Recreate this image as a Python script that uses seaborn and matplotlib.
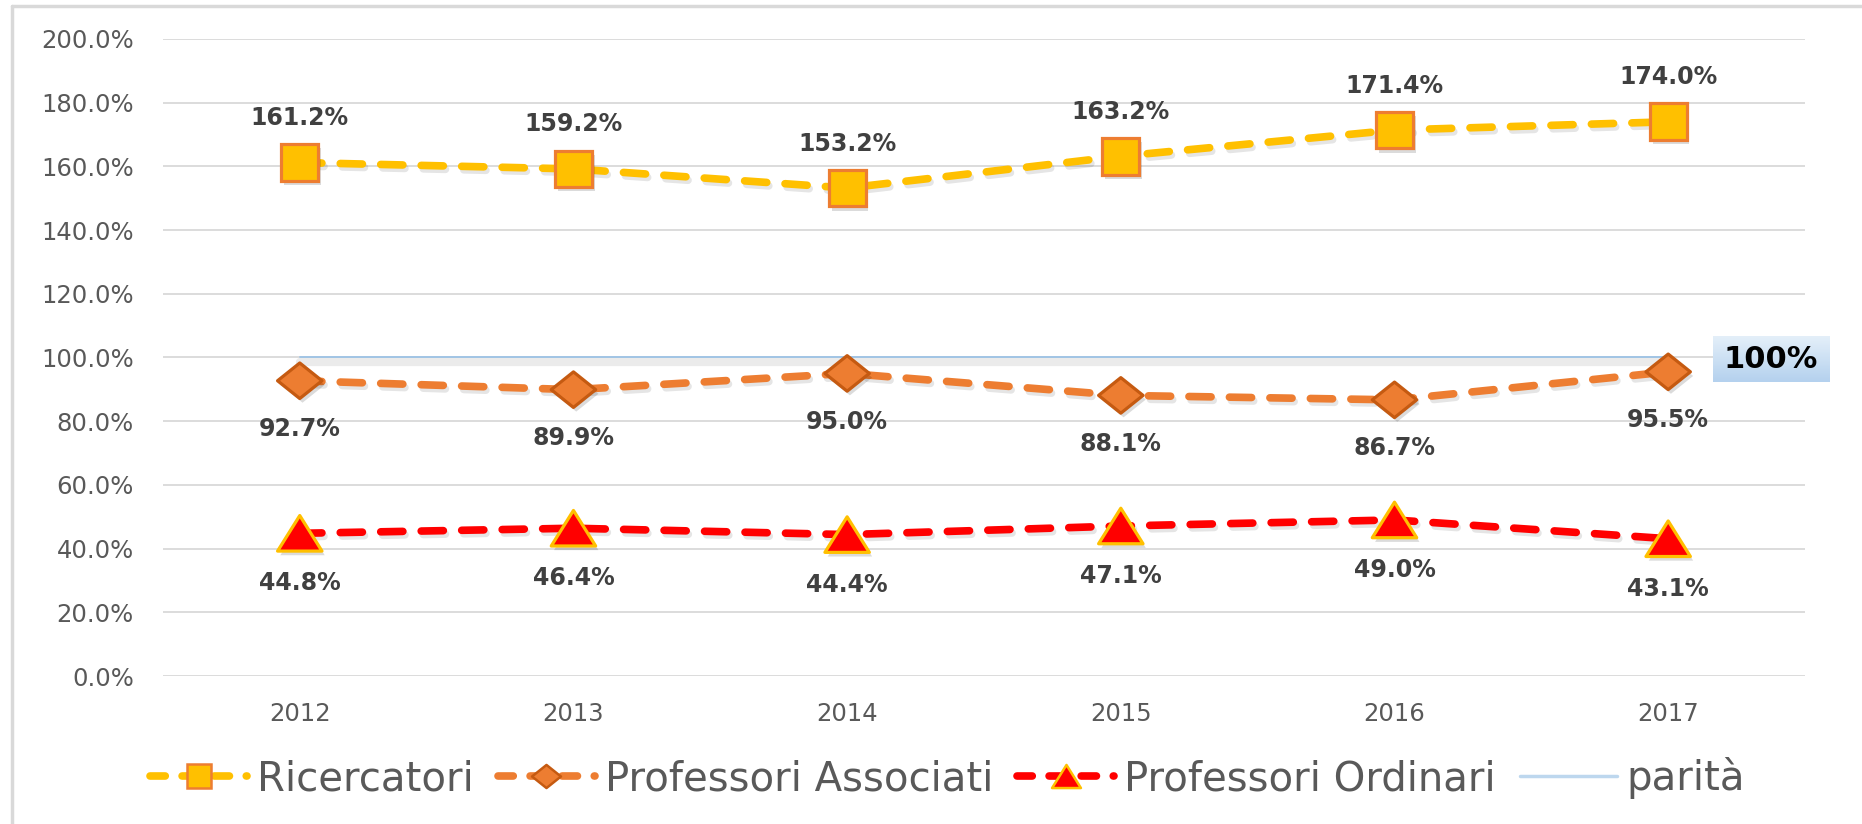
import numpy as np
import pandas as pd
import matplotlib.pyplot as plt
import matplotlib.patheffects as pe
from matplotlib.lines import Line2D
from matplotlib.path import Path
import seaborn as sns

# DATI
anni = ['2012', '2013', '2014', '2015', '2016', '2017']
ricercatori = [161.2, 159.2, 153.2, 163.2, 171.4, 174.0]
associati = [92.7, 89.9, 95.0, 88.1, 86.7, 95.5]
ordinari = [44.8, 46.4, 44.4, 47.1, 49.0, 43.1]
parita = [100, 100, 100, 100, 100, 100]
y_ticks = [0, 20, 40, 60, 80, 100, 120, 140, 160, 180, 200]
nomi = ['Ricercatori', 'Professori Associati', 'Professori Ordinari', 'parità']

df = pd.DataFrame({'anno': anni, 'ric': ricercatori, 'ass': associati,
                   'ord': ordinari, 'par': parita})

sns.set_style('white')
plt.rcParams['font.family'] = ['DejaVu Sans']

# marker personalizzati (rombo e triangolo schiacciati come in Excel)
rombo = Path([(-1.25, 0), (0, 1), (1.25, 0), (0, -1), (-1.25, 0)], closed=True)
triangolo = Path([(0, 1), (-1.25, -1), (1.25, -1), (0, 1)], closed=True)

serie = [
    # colonna, colore linea, marker, faccia, bordo, msize, offset etichetta
    ('ric', '#FFC000', 's', '#FFC000', '#ED7D31', 26.5, 32),
    ('ass', '#ED7D31', rombo, '#ED7D31', '#C55A11', 32, -35),
    ('ord', '#FF0000', triangolo, '#FF0000', '#FFC000', 32, -36),
]

fig = plt.figure(figsize=(18.62, 8.24), dpi=100)
ax = fig.add_axes([0.0875, 0.1796, 0.8819, 0.7731])

ombra_linea = [pe.SimpleLineShadow(offset=(1.5, -2.5), shadow_color='black', alpha=0.1), pe.Normal()]
ombra_marker = [pe.SimplePatchShadow(offset=(2, -3), shadow_rgbFace='black', alpha=0.14), pe.Normal()]

# linea parità
sns.lineplot(data=df, x='anno', y='par', ax=ax, color='#9DC3E6', linewidth=1.3,
             path_effects=[pe.SimpleLineShadow(offset=(0, -3.5), shadow_color='black', alpha=0.08, linewidth=6),
                           pe.Normal()], zorder=2)

for col, c, m, fc, ec, ms, off in serie:
    sns.lineplot(data=df, x='anno', y=col, ax=ax, color=c, linewidth=5.5,
                 linestyle=(0, (2.9, 2.4)), dash_capstyle='round',
                 path_effects=ombra_linea, zorder=3)
    sns.lineplot(data=df, x='anno', y=col, ax=ax, color=c, linestyle='none',
                 marker=m, markersize=ms, markerfacecolor=fc, markeredgecolor=ec,
                 markeredgewidth=2.3, path_effects=ombra_marker, zorder=4)
    for i, v in enumerate(df[col]):
        ax.annotate(f'{v:.1f}%', (i, v), xytext=(0, off), textcoords='offset points',
                    ha='center', va='center', fontsize=17, fontweight='bold',
                    color='#404040', zorder=5)

ax.set_xlim(-0.5, 5.5)
ax.set_ylim(0, 200)
ax.set_yticks(y_ticks)
ax.set_yticklabels([f'{t:.1f}%' for t in y_ticks])
ax.grid(axis='y', color='#D9D9D9', linewidth=1.3)
ax.grid(axis='x', visible=False)
ax.set_axisbelow(True)
for s in ax.spines.values():
    s.set_visible(False)
ax.tick_params(axis='y', length=0, pad=21, labelsize=17.5, labelcolor='#595959')
ax.tick_params(axis='x', length=0, pad=19, labelsize=17.5, labelcolor='#595959')
ax.set_xlabel('')
ax.set_ylabel('')

# riquadro "100%"
box = fig.add_axes([0.920, 0.5364, 0.0623, 0.0558])
grad = np.linspace(0, 1, 50).reshape(-1, 1)
box.imshow(grad, aspect='auto', cmap=sns.blend_palette(['#E4EFF9', '#B4D1EE'], as_cmap=True),
           extent=[0, 1, 0, 1], origin='upper')
box.axis('off')
box.text(0.5, 0.5, '100%', ha='center', va='center', fontsize=22, fontweight='bold',
         color='black', transform=box.transAxes)

# legenda
handles = []
for (col, c, m, fc, ec, ms, off), nome in zip(serie, nomi):
    handles.append(Line2D([], [], color=c, linewidth=5.5, linestyle=(0, (2.0, 2.2)),
                          dash_capstyle='round', marker=m, markersize=ms * 0.65,
                          markerfacecolor=fc, markeredgecolor=ec, markeredgewidth=1.8))
handles.append(Line2D([], [], color='#BDD7EE', linewidth=2.5))
fig.legend(handles, nomi, loc='center', bbox_to_anchor=(0.509, 0.0558), ncol=4,
           frameon=False, fontsize=29, handlelength=2.4, handletextpad=0.25,
           columnspacing=0.6, labelcolor='#595959')

# bordo grigio (sinistra e sopra)
fig.add_artist(Line2D([12 / 1862, 12 / 1862], [0, 1 - 6 / 824], color='#D9D9D9', linewidth=2.5))
fig.add_artist(Line2D([12 / 1862, 1], [1 - 6 / 824, 1 - 6 / 824], color='#D9D9D9', linewidth=2.5))

fig.savefig('out.png', dpi=100)
